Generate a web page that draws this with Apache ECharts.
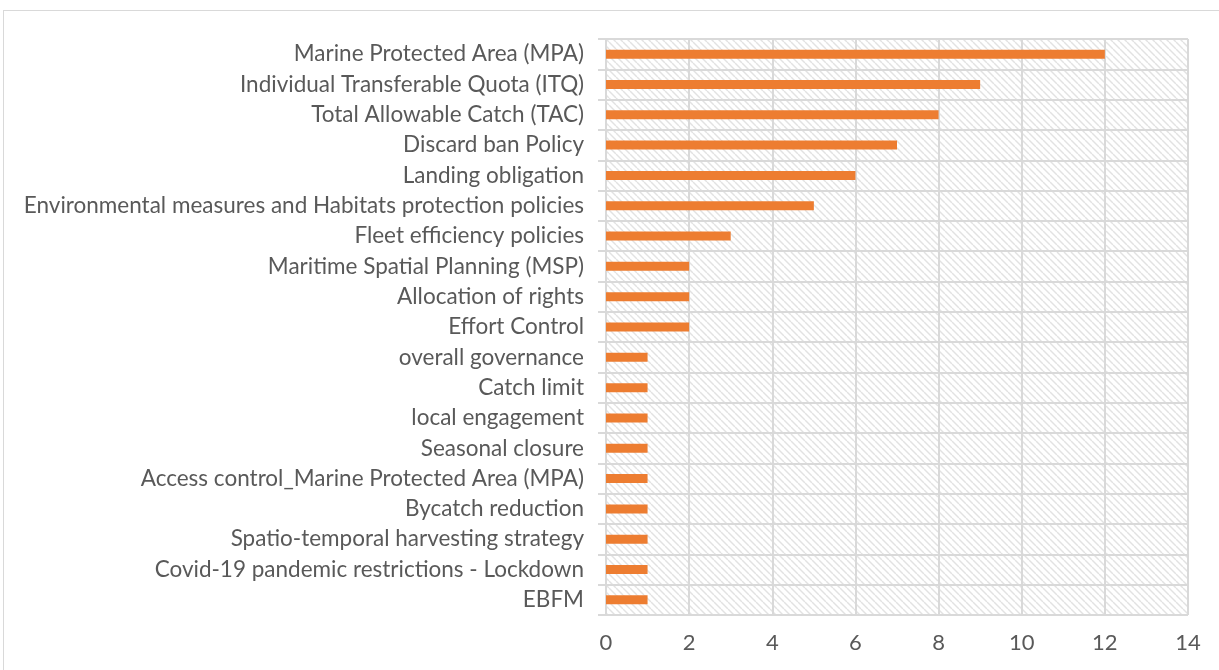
<!DOCTYPE html>
<html><head><meta charset="utf-8">
<script src="https://cdn.jsdelivr.net/npm/echarts@6/dist/echarts.min.js"></script>
<style>html,body{margin:0;padding:0;background:#fff;overflow:hidden}
#frame{position:absolute;left:3px;top:10px;width:1300px;height:800px;border:1px solid #d9d9d9}
#c{position:absolute;left:0;top:0;width:1219px;height:670px}</style>
</head><body><div id="frame"></div><div id="c"></div>
<script>
const categories = ["Marine Protected Area (MPA)","Individual Transferable Quota (ITQ)","Total Allowable Catch (TAC)","Discard ban Policy","Landing obligation","Environmental measures and Habitats protection policies","Fleet efficiency policies","Maritime Spatial Planning (MSP)","Allocation of rights","Effort Control","overall governance","Catch limit","local engagement","Seasonal closure","Access control_Marine Protected Area (MPA)","Bycatch reduction","Spatio-temporal harvesting strategy","Covid-19 pandemic restrictions - Lockdown","EBFM"];
const values = [12,9,8,7,6,5,3,2,2,2,1,1,1,1,1,1,1,1,1];
const xTicks = [0,2,4,6,8,10,12,14];

const pc = document.createElement('canvas');
pc.width = 7; pc.height = 7;
const g = pc.getContext('2d');
g.fillStyle = '#ffffff'; g.fillRect(0,0,7,7);
g.strokeStyle = '#e2e2e2'; g.lineWidth = 1.4;
for (let k = -7; k <= 14; k += 7) { g.beginPath(); g.moveTo(k,0); g.lineTo(k+7,7); g.stroke(); }

const chart = echarts.init(document.getElementById('c'));
chart.setOption({
  animation:false,
  grid:{left:606,right:31,top:39,bottom:55,show:true,borderWidth:0,backgroundColor:{image:pc,repeat:'repeat'}},
  xAxis:{type:'value',min:xTicks[0],max:xTicks[xTicks.length-1],interval:2,
    axisLine:{show:false},axisTick:{show:false},
    splitLine:{show:true,lineStyle:{color:'#d9d9d9',width:2}},
    axisLabel:{margin:17,fontFamily:'Lato',fontSize:22,color:'#595959'}},
  yAxis:{type:'category',data:categories,inverse:true,
    axisLine:{show:true,lineStyle:{color:'#d9d9d9',width:2}},
    axisTick:{show:true,length:8,lineStyle:{color:'#d9d9d9',width:2}},
    splitLine:{show:true,lineStyle:{color:'#d9d9d9',width:2}},
    axisLabel:{margin:22,fontFamily:'Lato',fontSize:22.5,color:'#595959'}},
  series:[{type:'bar',data:values,barWidth:9,itemStyle:{color:'#ed7d31'}}],
  graphic:[
    {type:'line',shape:{x1:1188,y1:39,x2:1188,y2:615},style:{stroke:'#d9d9d9',lineWidth:2}},
    {type:'line',shape:{x1:598,y1:39,x2:1188,y2:39},style:{stroke:'#d9d9d9',lineWidth:2}},
    {type:'line',shape:{x1:598,y1:615,x2:1188,y2:615},style:{stroke:'#d9d9d9',lineWidth:2}}
  ]
});
</script></body></html>
